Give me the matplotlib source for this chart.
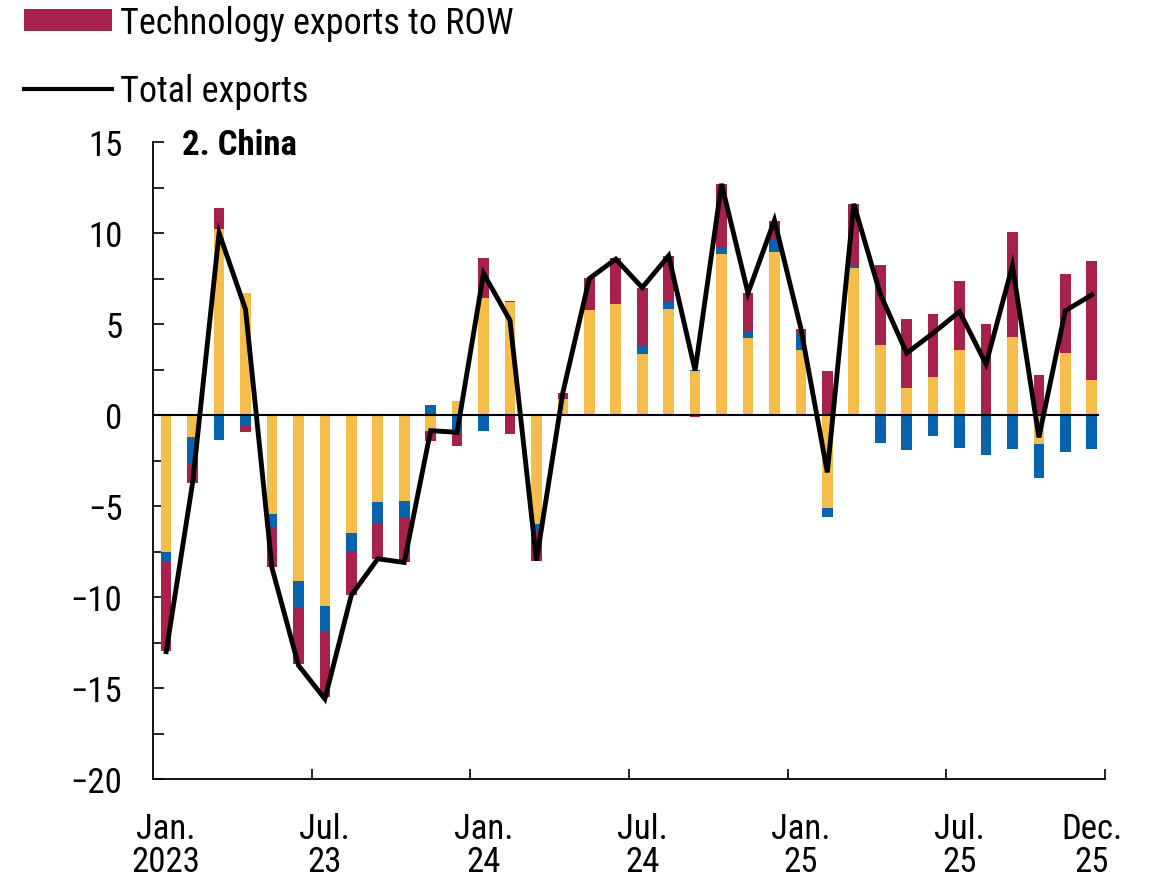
import matplotlib
matplotlib.use("Agg")
import matplotlib.pyplot as plt
import numpy as np
from matplotlib.ticker import FixedLocator, MultipleLocator
from matplotlib.patches import Patch
from matplotlib.lines import Line2D
from matplotlib import font_manager as fm
import logging
logging.getLogger('matplotlib.font_manager').setLevel(logging.ERROR)

available = set(f.name for f in fm.fontManager.ttflist)
preferred = ['Liberation Sans Narrow', 'Arial Narrow', 'Nimbus Sans Narrow', 'Roboto Condensed',
             'Archivo Narrow', 'Liberation Sans']
chosen = [f for f in preferred if f in available]
plt.rcParams['font.family'] = chosen[:1] + ['DejaVu Sans']

months = ["Jan 2023", "Feb 2023", "Mar 2023", "Apr 2023", "May 2023", "Jun 2023",
          "Jul 2023", "Aug 2023", "Sep 2023", "Oct 2023", "Nov 2023", "Dec 2023",
          "Jan 2024", "Feb 2024", "Mar 2024", "Apr 2024", "May 2024", "Jun 2024",
          "Jul 2024", "Aug 2024", "Sep 2024", "Oct 2024", "Nov 2024", "Dec 2024",
          "Jan 2025", "Feb 2025", "Mar 2025", "Apr 2025", "May 2025", "Jun 2025",
          "Jul 2025", "Aug 2025", "Sep 2025", "Oct 2025", "Nov 2025", "Dec 2025"]

other_exports = [-7.5, -1.2, 10.2, 6.7, -5.45, -9.1, -10.5, -6.5, -4.8, -4.75, -0.9, 0.75,
                 6.45, 6.2, -6.0, 0.9, 5.75, 6.1, 3.35, 5.85, 2.4, 8.85, 4.25, 8.95,
                 3.55, -5.1, 8.1, 3.85, 1.5, 2.1, 3.55, 0.0, 4.3, -1.6, 3.4, 1.9]
tech_us = [-0.6, -1.5, -1.4, -0.55, -0.7, -1.5, -1.4, -1.05, -1.2, -0.85, 0.55, -1.05,
           -0.9, 0.05, -0.45, 0.0, -0.05, -0.05, 0.45, 0.4, 0.1, 0.3, 0.35, 0.7,
           0.9, -0.5, 0.1, -1.55, -1.9, -1.15, -1.8, -2.2, -1.85, -1.85, -2.05, -1.85]
tech_row = [-4.85, -1.05, 1.15, -0.4, -2.2, -3.1, -3.6, -2.35, -1.9, -2.45, -0.55, -0.65,
            2.2, -1.05, -1.55, 0.3, 1.8, 2.5, 3.2, 2.5, -0.1, 3.55, 2.1, 1.0,
            0.3, 2.4, 3.4, 4.4, 3.8, 3.45, 3.8, 5.0, 5.75, 2.2, 4.35, 6.55]
total_exports = [-13.0, -3.7, 10.0, 5.8, -8.4, -13.75, -15.6, -9.9, -7.9, -8.1, -0.86, -0.95,
                 7.78, 5.2, -8.0, 1.24, 7.5, 8.57, 7.0, 8.75, 2.44, 12.7, 6.7, 10.7,
                 4.76, -3.15, 11.6, 6.65, 3.4, 4.5, 5.68, 2.8, 8.2, -1.23, 5.73, 6.6]

tick_label_idx = [0, 6, 12, 18, 24, 30, 35]
tick_labels = ["Jan.\n2023", "Jul.\n23", "Jan.\n24", "Jul.\n24", "Jan.\n25", "Jul.\n25", "Dec.\n25"]
y_ticks = [-20, -15, -10, -5, 0, 5, 10, 15]

c_yellow = "#F5BD4A"
c_blue = "#0563AF"
c_red = "#A8204C"

fig = plt.figure(figsize=(11.52, 8.79), dpi=100)
ax = fig.add_axes([0.1328, 0.1126, 0.9592 - 0.1328, 0.8373 - 0.1126])

x = np.arange(len(months))
pos_bottom = np.zeros(len(months))
neg_bottom = np.zeros(len(months))
width = 0.4
for vals, col in [(other_exports, c_yellow), (tech_us, c_blue), (tech_row, c_red)]:
    v = np.array(vals, dtype=float)
    bottoms = np.where(v >= 0, pos_bottom, neg_bottom)
    ax.bar(x, v, width=width, bottom=bottoms, color=col, edgecolor='none', zorder=2)
    pos_bottom = pos_bottom + np.where(v >= 0, v, 0)
    neg_bottom = neg_bottom + np.where(v < 0, v, 0)

ax.axhline(0, xmin=0, xmax=0.993, color='black', lw=1.5, zorder=3)
ax.plot(x, total_exports, color='black', lw=3.5, zorder=4, solid_joinstyle='miter')

ax.set_xlim(-0.5, 35.5)
ax.set_ylim(-20, 15)

for s in ['top', 'right']:
    ax.spines[s].set_visible(False)
for s in ['left', 'bottom']:
    ax.spines[s].set_linewidth(1.3)

ax.set_yticks(y_ticks)
ax.set_yticklabels([("\u2212%d" % abs(v)) if v < 0 else "%d" % v for v in y_ticks])
ax.yaxis.set_minor_locator(MultipleLocator(2.5))
ax.tick_params(axis='y', which='both', direction='in', length=8, width=1.2, pad=22, labelsize=25)

ax.xaxis.set_major_locator(FixedLocator(tick_label_idx))
ax.set_xticklabels(tick_labels, linespacing=1.0)
ax.xaxis.set_minor_locator(FixedLocator(np.arange(5.5, 36, 6)))
ax.tick_params(axis='x', which='major', length=0, pad=24, labelsize=25)
ax.tick_params(axis='x', which='minor', direction='in', length=7, width=1.2)

ax.text(0.030, 0.996, "2. China", transform=ax.transAxes, fontsize=25, fontweight='bold',
        ha='left', va='center')

handles = [Patch(facecolor=c_red, edgecolor='none', label="Technology exports to ROW"),
           Line2D([0], [0], color='black', lw=3, label="Total exports")]
fig.legend(handles=handles, loc='upper left', bbox_to_anchor=(0.008, 1.01), frameon=False,
           fontsize=26, handlelength=2.45, handleheight=0.55, handletextpad=0.22,
           labelspacing=0.9, borderaxespad=0)

fig.savefig("out.png", dpi=100)
